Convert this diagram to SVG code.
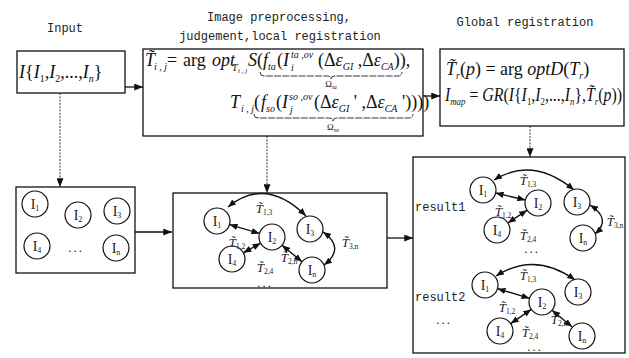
<svg xmlns="http://www.w3.org/2000/svg" width="629" height="358" viewBox="0 0 629 358">
  <style>
    .title { font-family: "Liberation Mono", "DejaVu Sans Mono", monospace; font-size: 12px; fill: #222; }
    .box { fill: #fff; stroke: #111; stroke-width: 1.3; }
    .m { font-family: "Liberation Serif", "Times New Roman", serif; font-size: 18px; fill: #111; }
    .it { font-style: italic; }
    .sb { font-size: 10px; }
    .ss { font-size: 7px; }
    .om { font-family: "Liberation Serif", serif; font-size: 9px; fill: #111; }
    .brace { fill: none; stroke: #222; stroke-width: 0.9; stroke-dasharray: 7 1.2; }
    .nd circle { fill: #fff; stroke: #111; stroke-width: 1.2; }
    .nl { font-family: "Liberation Serif", "DejaVu Serif", serif; font-size: 14px; fill: #222; text-anchor: middle; }
    .nl tspan { font-size: 8px; }
    .el { font-family: "Liberation Serif", serif; font-size: 13px; font-style: italic; fill: #222; text-anchor: middle; }
    .el tspan { font-size: 7.5px; font-style: normal; }
    .dots { font-family: "Liberation Serif", serif; font-size: 13px; fill: #222; text-anchor: middle; letter-spacing: 2px; }
    .solid { fill: none; stroke: #111; stroke-width: 1.3; marker-end: url(#ah); }
    .dash { fill: none; stroke: #333; stroke-width: 1; stroke-dasharray: 2 1.3; marker-end: url(#ah); }
    .edge { fill: none; stroke: #111; stroke-width: 1.4; marker-start: url(#eh); marker-end: url(#eh); }
  </style>
  <defs>
    <marker id="ah" viewBox="0 0 10 8" refX="10" refY="4" markerWidth="9" markerHeight="7" markerUnits="userSpaceOnUse" orient="auto">
      <path d="M0,0 L10,4 L0,8 z" fill="#111"/>
    </marker>
    <marker id="eh" viewBox="0 0 10 8" refX="10" refY="4" markerWidth="8" markerHeight="6.5" markerUnits="userSpaceOnUse" orient="auto-start-reverse">
      <path d="M0,0 L10,4 L0,8 z" fill="#111"/>
    </marker>
  </defs>

  <rect width="629" height="358" fill="#fff"/>

  <!-- column titles -->
  <text class="title" x="65" y="32" text-anchor="middle">Input</text>
  <text class="title" x="279" y="21" text-anchor="middle">Image preprocessing,</text>
  <text class="title" x="280" y="40" text-anchor="middle">judgement,local registration</text>
  <text class="title" x="525" y="26" text-anchor="middle">Global registration</text>

  <!-- connectors -->
  <g id="connectors">
    <path class="solid" d="M125,87 L143,87"/>
    <path class="solid" d="M423,96 L440,96"/>
    <path class="dash" d="M60,93 L60,187"/>
    <path class="dash" d="M267,136 L267,193"/>
    <path class="dash" d="M530,126 L530,157"/>
    <path class="solid" d="M135,232 L172,232"/>
    <path class="solid" d="M387,238 L413,238"/>
  </g>

  <!-- input set -->
  <g id="input">
    <rect class="box" x="17" y="51" width="108" height="42"/>
    <text class="m it" y="78"><tspan x="19">I</tspan><tspan font-style="normal">{</tspan>I<tspan class="sb" dy="4" font-style="normal">1</tspan><tspan dy="-4" font-style="normal">,</tspan>I<tspan class="sb" dy="4" font-style="normal">2</tspan><tspan dy="-4" font-style="normal">,...,</tspan>I<tspan class="sb" dy="4">n</tspan><tspan dy="-4" font-style="normal">}</tspan></text>
  </g>

  <!-- local registration formulas -->
  <g id="local-registration">
    <rect class="box" x="143" y="49" width="280" height="87"/>
    <text class="m" y="66">
      <tspan x="145" class="it">T&#x303;</tspan><tspan x="154" y="70" class="sb it">i , j</tspan><tspan x="167" y="66">=</tspan><tspan x="183">arg</tspan><tspan x="212" class="it">opt</tspan><tspan x="232" y="71" class="sb it">T</tspan><tspan x="238" y="73" class="ss it">i , j</tspan><tspan x="248" y="66" class="it">S</tspan><tspan>(</tspan><tspan x="263" class="it">f</tspan><tspan x="268" y="70" class="sb it">ta</tspan><tspan x="277" y="66">(</tspan><tspan class="it">I</tspan><tspan x="291" y="58" class="sb it">ta ,ov</tspan><tspan x="291" y="71" class="sb it">i</tspan><tspan x="318" y="66">(Δ</tspan><tspan class="it">ε</tspan><tspan y="70" class="sb it">GI</tspan><tspan y="66"> ,Δ</tspan><tspan class="it">ε</tspan><tspan y="70" class="sb it">CA</tspan><tspan y="66">)),</tspan>
    </text>
    <path class="brace" d="M260,72 Q260,76 264,76 L327,76 Q331,76 331,79 Q331,76 335,76 L398,76 Q402,76 402,72"/>
    <text class="om" x="331" y="87" text-anchor="middle">Ω<tspan font-size="6" dy="2" font-style="italic">ta</tspan></text>

    <text class="m" y="108">
      <tspan x="230" class="it">T</tspan><tspan x="241" y="112" class="sb it">i , j</tspan><tspan x="254" y="108">(</tspan><tspan x="261" class="it">f</tspan><tspan x="266" y="112" class="sb it">so</tspan><tspan x="276" y="108">(</tspan><tspan class="it">I</tspan><tspan x="289" y="100" class="sb it">so ,ov</tspan><tspan x="290" y="113" class="sb it">j</tspan><tspan x="314" y="108">(Δ</tspan><tspan class="it">ε</tspan><tspan y="112" class="sb it">GI</tspan><tspan y="108"> ' ,Δ</tspan><tspan class="it">ε</tspan><tspan y="112" class="sb it">CA</tspan><tspan y="108"> '))))</tspan>
    </text>
    <path class="brace" d="M254,114 Q254,118 258,118 L329,118 Q333,118 333,121 Q333,118 337,118 L409,118 Q413,118 413,114"/>
    <text class="om" x="333" y="130" text-anchor="middle">Ω<tspan font-size="6" dy="2" font-style="italic">so</tspan></text>
  </g>

  <!-- global registration formulas -->
  <g id="global-registration">
    <rect class="box" x="440" y="49" width="184" height="77"/>
    <text class="m" y="75"><tspan x="446" class="it">T&#x303;</tspan><tspan class="sb it" dy="4">r</tspan><tspan dy="-4">(</tspan><tspan class="it">p</tspan><tspan>) = arg</tspan><tspan class="it"> optD</tspan><tspan>(</tspan><tspan class="it">T</tspan><tspan class="sb it" dy="4">r</tspan><tspan dy="-4">)</tspan></text>
    <text class="m" y="101" textLength="177" lengthAdjust="spacingAndGlyphs"><tspan x="445" class="it">I</tspan><tspan class="sb it" dy="4">map</tspan><tspan dy="-4"> = </tspan><tspan class="it">GR</tspan><tspan>(</tspan><tspan class="it">I</tspan><tspan>{</tspan><tspan class="it">I</tspan><tspan class="sb" dy="4">1</tspan><tspan dy="-4">,</tspan><tspan class="it">I</tspan><tspan class="sb" dy="4">2</tspan><tspan dy="-4">,...,</tspan><tspan class="it">I</tspan><tspan class="sb it" dy="4">n</tspan><tspan dy="-4">},</tspan><tspan class="it">T&#x303;</tspan><tspan class="sb it" dy="4">r</tspan><tspan dy="-4">(</tspan><tspan class="it">p</tspan><tspan>))</tspan></text>
  </g>

  <!-- image set -->
  <g id="image-set">
    <rect class="box" x="16" y="187" width="119" height="86"/>
    <g class="nd">
      <circle cx="35" cy="204" r="13"/><circle cx="78" cy="215" r="13"/><circle cx="117" cy="211" r="13"/>
      <circle cx="37" cy="246" r="13"/><circle cx="116" cy="248" r="13"/>
    </g>
    <text class="nl" x="35" y="209">I<tspan dy="2">1</tspan></text>
    <text class="nl" x="78" y="220">I<tspan dy="2">2</tspan></text>
    <text class="nl" x="117" y="216">I<tspan dy="2">3</tspan></text>
    <text class="nl" x="37" y="251">I<tspan dy="2">4</tspan></text>
    <text class="nl" x="116" y="253">I<tspan dy="2">n</tspan></text>
    <text class="dots" x="76" y="252">...</text>
  </g>

  <!-- pairwise registration graph -->
  <g id="local-graph">
    <rect class="box" x="173" y="193" width="214" height="95"/>
    <g class="edges">
      <path class="edge" d="M228,207 Q266,176 306,216"/>
      <path class="edge" d="M229.5,224.6 L259.5,233.4"/>
      <path class="edge" d="M243.4,252.8 L260.6,243.2"/>
      <path class="edge" d="M282,245.3 L302,261.7"/>
      <path class="edge" d="M323,232 Q346,248 324,265"/>
    </g>
    <g class="nd">
      <circle cx="217" cy="221" r="13"/><circle cx="272" cy="237" r="13"/><circle cx="310" cy="229" r="13"/>
      <circle cx="232" cy="259" r="13"/><circle cx="312" cy="270" r="13"/>
    </g>
    <text class="nl" x="217" y="226">I<tspan dy="2">1</tspan></text>
    <text class="nl" x="272" y="242">I<tspan dy="2">2</tspan></text>
    <text class="nl" x="310" y="234">I<tspan dy="2">3</tspan></text>
    <text class="nl" x="232" y="264">I<tspan dy="2">4</tspan></text>
    <text class="nl" x="312" y="275">I<tspan dy="2">n</tspan></text>
    <text class="el" x="264" y="213">T&#x303;<tspan dy="2">1,3</tspan></text>
    <text class="el" x="237" y="247">T&#x303;<tspan dy="2">1,2</tspan></text>
    <text class="el" x="265" y="272">T&#x303;<tspan dy="2">2,4</tspan></text>
    <text class="el" x="289" y="262">T&#x303;<tspan dy="2">2,n</tspan></text>
    <text class="el" x="350" y="247">T&#x303;<tspan dy="2">3,n</tspan></text>
    <text class="dots" x="265" y="287">...</text>
  </g>

  <!-- global results -->
  <g id="results">
    <rect class="box" x="413" y="157" width="212" height="196"/>
    <text class="title" x="415" y="211">result1</text>
    <text class="title" x="415" y="301">result2</text>
    <text class="dots" x="444" y="324">...</text>

    <g class="edges">
      <path class="edge" d="M494,180 Q533,156 574,190"/>
      <path class="edge" d="M495.6,193 L525.4,200"/>
      <path class="edge" d="M507.9,222.9 L527.1,210.2"/>
      <path class="edge" d="M590,205 Q612,219 595,234"/>

      <path class="edge" d="M496,276 Q535,251 575,280"/>
      <path class="edge" d="M497.5,288.7 L529.5,298.3"/>
      <path class="edge" d="M510.7,323.6 L531.3,309.4"/>
      <path class="edge" d="M552,310.3 L572,326.7"/>
    </g>
    <g class="nd">
      <circle cx="483" cy="190" r="13"/><circle cx="538" cy="203" r="13"/><circle cx="577" cy="202" r="13"/>
      <circle cx="497" cy="230" r="13"/><circle cx="583" cy="238" r="13"/>
      <circle cx="485" cy="285" r="13"/><circle cx="542" cy="302" r="13"/><circle cx="578" cy="292" r="13"/>
      <circle cx="500" cy="331" r="13"/><circle cx="582" cy="336" r="13"/>
    </g>
    <text class="nl" x="483" y="195">I<tspan dy="2">1</tspan></text>
    <text class="nl" x="538" y="208">I<tspan dy="2">2</tspan></text>
    <text class="nl" x="577" y="207">I<tspan dy="2">3</tspan></text>
    <text class="nl" x="497" y="235">I<tspan dy="2">4</tspan></text>
    <text class="nl" x="583" y="243">I<tspan dy="2">n</tspan></text>
    <text class="el" x="528" y="185">T&#x303;<tspan dy="2">1,3</tspan></text>
    <text class="el" x="503" y="216">T&#x303;<tspan dy="2">1,2</tspan></text>
    <text class="el" x="528" y="240">T&#x303;<tspan dy="2">2,4</tspan></text>
    <text class="el" x="615" y="226">T&#x303;<tspan dy="2">3,n</tspan></text>
    <text class="dots" x="532" y="253">...</text>

    <text class="nl" x="485" y="290">I<tspan dy="2">1</tspan></text>
    <text class="nl" x="542" y="307">I<tspan dy="2">2</tspan></text>
    <text class="nl" x="578" y="297">I<tspan dy="2">3</tspan></text>
    <text class="nl" x="500" y="336">I<tspan dy="2">4</tspan></text>
    <text class="nl" x="582" y="341">I<tspan dy="2">n</tspan></text>
    <text class="el" x="528" y="280">T&#x303;<tspan dy="2">1,3</tspan></text>
    <text class="el" x="507" y="312">T&#x303;<tspan dy="2">1,2</tspan></text>
    <text class="el" x="530" y="337">T&#x303;<tspan dy="2">2,4</tspan></text>
    <text class="el" x="559" y="324">T&#x303;<tspan dy="2">2,n</tspan></text>
    <text class="dots" x="535" y="351">...</text>
  </g>
</svg>
